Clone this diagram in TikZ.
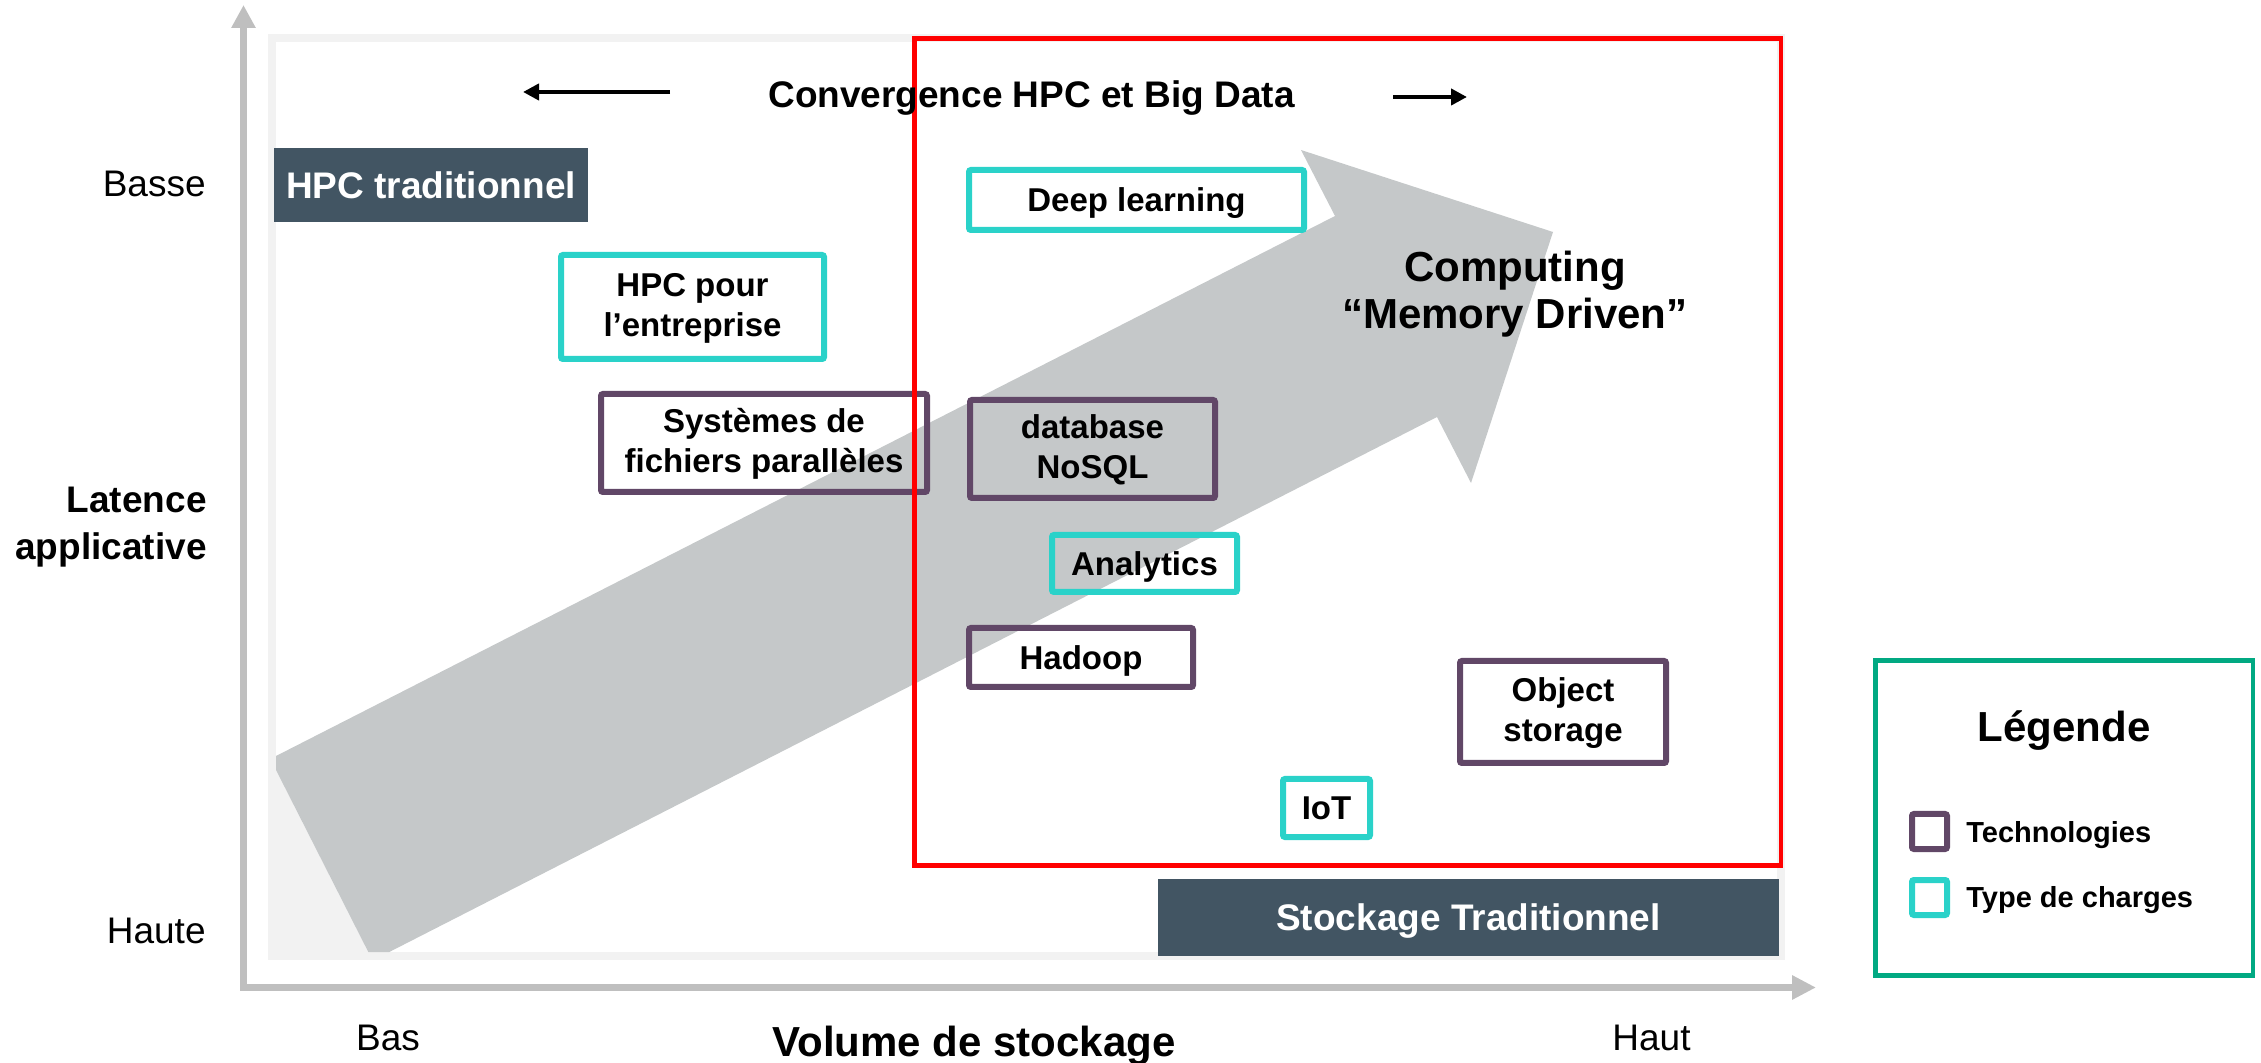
\documentclass[tikz,border=0pt]{standalone}
\usepackage{fontspec}
\setmainfont{Liberation Sans}
\usetikzlibrary{arrows.meta}

\definecolor{slate}{HTML}{425563}
\definecolor{techpurple}{HTML}{614767}
\definecolor{loadcyan}{HTML}{2AD2C9}
\definecolor{legendgreen}{HTML}{01A982}
\definecolor{arrowgray}{HTML}{C5C8C9}
\definecolor{framegray}{HTML}{F2F2F2}
\definecolor{axisgray}{HTML}{BFBFBF}
\definecolor{zonered}{HTML}{FF0000}

\newcommand\twoline[2]{\begin{tabular}[t]{@{}c@{}}\smash{#1}\\\smash{#2}\end{tabular}}

\begin{document}
\begin{tikzpicture}[x=0.5pt,y=-0.5pt,
  fmid/.style={font=\fontsize{16.5pt}{20.25pt}\selectfont\bfseries},
  techbox/.style={draw=techpurple, line width=3pt, rounded corners=1pt, inner sep=0pt, fmid},
  loadbox/.style={draw=loadcyan, line width=3pt, rounded corners=1pt, inner sep=0pt, fmid},
  oneline/.style={text height=11.8pt, text depth=0pt},
  twolines/.style={text height=10pt, text depth=20.5pt},
  darkbox/.style={fill=slate, text=white, inner sep=0pt, font=\fontsize{18.5pt}{22pt}\selectfont\bfseries, text height=13.25pt, text depth=0pt},
  plainlabel/.style={inner sep=0pt, font=\fontsize{18.5pt}{22pt}\selectfont},
  boldlabel/.style={inner sep=0pt, font=\fontsize{18.5pt}{22pt}\selectfont\bfseries},
  biglabel/.style={inner sep=0pt, font=\fontsize{21pt}{23.5pt}\selectfont\bfseries},
  keylabel/.style={inner sep=0pt, font=\fontsize{14.5pt}{17pt}\selectfont\bfseries, anchor=base west},
  keybox/.style={line width=3pt, rounded corners=1pt, minimum size=17.5pt, inner sep=0pt},
  convarrow/.style={line width=2pt, -{Triangle[length=8pt,width=8pt]}},
  axisline/.style={axisgray, line width=3.5pt, {Triangle[length=11.5pt,width=11.5pt]}-{Triangle[length=12pt,width=11.5pt]}}
]
\useasboundingbox (0,0) rectangle (2261,1063);

% frame
\draw[framegray, line width=4.15pt] (272,38) rectangle (1781,956);

% big arrow
\fill[framegray] (276,770) -- (368.3,952) -- (276,952) -- cycle;
\fill[arrowgray] (276,756) -- (1335,216) -- (1301,150) -- (1553,232) -- (1471,483)
  -- (1437,417) -- (389.3,952) -- (368.3,952) -- (276,770) -- cycle;

% axes
\coordinate (ytip) at (243.5,5);
\coordinate (origin) at (243.5,987.5);
\coordinate (xtip) at (1816,987.5);
\draw[axisline] (ytip) -- (origin) -- (xtip);

% dark boxes
\node[darkbox, minimum width=157pt, minimum height=37pt] (hpctrad) at (431,185) {HPC traditionnel};
\node[darkbox, minimum width=310.5pt, minimum height=38.5pt] (stocktrad) at (1468.5,917.5) {Stockage Traditionnel};

% workload / technology boxes
\node[loadbox, oneline, minimum width=167.5pt, minimum height=30pt] (deep) at (1136.5,200) {Deep learning};
\node[loadbox, twolines, minimum width=131.5pt, minimum height=52pt] (hpcent) at (692.5,307) {\twoline{HPC pour}{l’entreprise}};
\node[techbox, twolines, minimum width=163pt, minimum height=49pt] (pfs) at (764,443) {\twoline{Systèmes de}{fichiers parallèles}};
\node[techbox, twolines, minimum width=122.5pt, minimum height=49pt] (nosql) at (1092.5,449) {\twoline{database}{NoSQL}};
\node[loadbox, oneline, minimum width=92.5pt, minimum height=28.5pt] (analytics) at (1144.5,563.5) {Analytics};
\node[techbox, oneline, minimum width=112pt, minimum height=29.5pt] (hadoop) at (1081,657.5) {Hadoop};
\node[techbox, twolines, minimum width=103pt, minimum height=51pt] (objstore) at (1563,712) {\twoline{Object}{storage}};
\node[loadbox, oneline, minimum width=43.5pt, minimum height=29pt] (iot) at (1326.5,808) {IoT};

% convergence zone
\draw[zonered, line width=2.25pt] (914.5,38.5) rectangle (1781,865.5);

% convergence title and arrows
\coordinate (lA) at (670,92);
\coordinate (lB) at (523,92);
\draw[convarrow] (lA) -- (lB);
\coordinate (rA) at (1393,97);
\coordinate (rB) at (1467,97);
\draw[convarrow] (rA) -- (rB);
\node[boldlabel, anchor=base] (convtitle) at (1031.5,108) {Convergence HPC et Big Data};

\node[biglabel, anchor=base] (memdriven) at (1515,282) {\twoline{Computing}{“Memory Driven”}};

% axis labels
\node[plainlabel, anchor=base east] (basse) at (206,197) {Basse};
\node[plainlabel, anchor=base east] (haute) at (206,943) {Haute};
\node[plainlabel, anchor=base] (bas) at (388,1050) {Bas};
\node[plainlabel, anchor=base] (haut) at (1651.5,1050) {Haut};
\node[boldlabel, anchor=base east, font=\fontsize{18.5pt}{23.5pt}\selectfont\bfseries] (latency) at (207,513)
  {\begin{tabular}[t]{@{}r@{}}Latence\\applicative\end{tabular}};
\node[biglabel, anchor=base] (volume) at (974,1056) {Volume de stockage};

% legend
\node[draw=legendgreen, line width=2.35pt, minimum width=188.85pt, minimum height=157.25pt, inner sep=0pt] (legend) at (2064,818) {};
\node[biglabel, anchor=base] (legendtitle) at (2064,742) {Légende};
\node[keybox, draw=techpurple] (keytech) at (1929.5,831.5) {};
\node[keybox, draw=loadcyan] (keyload) at (1929.5,897.5) {};
\node[keylabel] (keytechtext) at (1966,842) {Technologies};
\node[keylabel] (keyloadtext) at (1966,907) {Type de charges};
\end{tikzpicture}
\end{document}
